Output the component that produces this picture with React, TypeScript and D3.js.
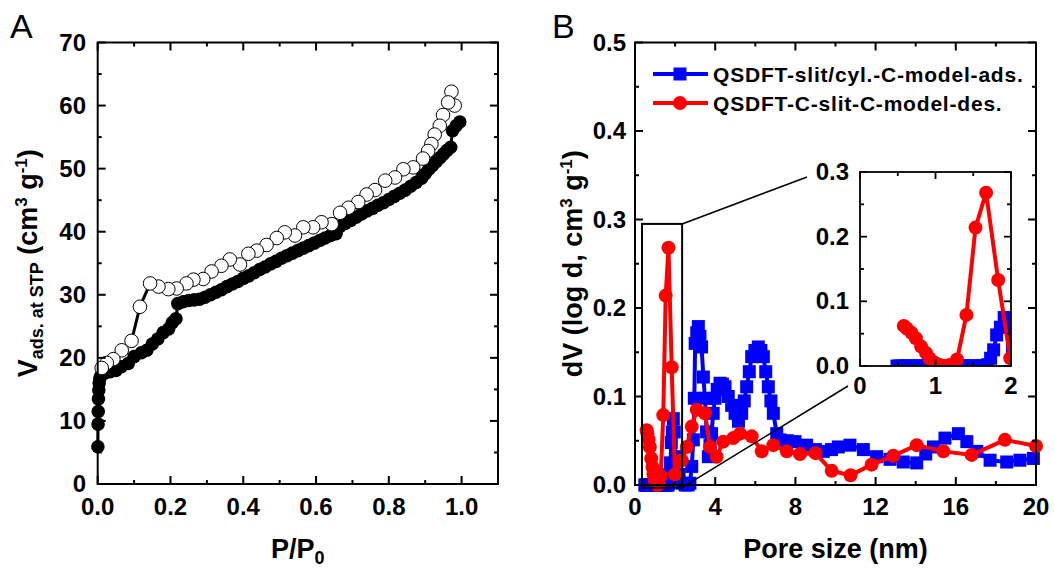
import * as d3 from "d3";

// Panel A: N2 isotherm (P/P0 vs V ads. at STP)
const adsP = [0.0005, 0.001, 0.0015, 0.002, 0.003, 0.004, 0.006, 0.01, 0.02, 0.034, 0.05, 0.065, 0.084, 0.1, 0.12, 0.135, 0.15, 0.165, 0.18, 0.195, 0.205, 0.215, 0.22, 0.235, 0.25, 0.265, 0.28, 0.295, 0.31, 0.325, 0.34, 0.355, 0.37, 0.385, 0.4, 0.415, 0.43, 0.445, 0.46, 0.475, 0.49, 0.505, 0.52, 0.535, 0.55, 0.565, 0.58, 0.595, 0.61, 0.625, 0.64, 0.655, 0.665, 0.68, 0.695, 0.71, 0.725, 0.74, 0.755, 0.77, 0.785, 0.8, 0.815, 0.83, 0.845, 0.86, 0.875, 0.89, 0.9, 0.91, 0.92, 0.93, 0.94, 0.95, 0.96, 0.97, 0.975, 0.985, 0.995];
const adsV = [5.9, 9.5, 11.5, 13.5, 14.9, 16.0, 16.8, 17.3, 17.6, 17.8, 18.0, 18.6, 19.1, 20.2, 20.8, 21.2, 22.2, 23.0, 24.0, 24.6, 25.6, 26.2, 28.6, 28.9, 29.1, 29.2, 29.3, 29.6, 30.0, 30.4, 30.8, 31.3, 31.7, 32.1, 32.6, 33.0, 33.5, 34.0, 34.4, 34.9, 35.3, 35.8, 36.2, 36.6, 37.0, 37.4, 37.8, 38.2, 38.6, 39.0, 39.4, 39.7, 40.8, 41.3, 41.8, 42.3, 42.8, 43.3, 43.7, 44.2, 44.6, 45.1, 45.6, 46.1, 46.6, 47.2, 47.8, 48.5, 49.2, 49.9, 50.5, 51.1, 51.7, 52.3, 52.9, 53.4, 56.0, 56.8, 57.4];
const desP = [0.981, 0.972, 0.963, 0.949, 0.94, 0.926, 0.917, 0.908, 0.894, 0.867, 0.84, 0.817, 0.79, 0.762, 0.739, 0.716, 0.689, 0.666, 0.643, 0.615, 0.592, 0.565, 0.542, 0.514, 0.492, 0.464, 0.437, 0.414, 0.391, 0.363, 0.34, 0.313, 0.29, 0.263, 0.244, 0.217, 0.194, 0.167, 0.144, 0.116, 0.093, 0.066, 0.043, 0.025, 0.011];
const desV = [60.0, 62.2, 60.5, 58.5, 56.8, 55.4, 53.9, 52.8, 51.6, 50.2, 49.9, 48.6, 48.1, 46.6, 45.9, 44.7, 43.8, 43.0, 41.2, 41.5, 40.7, 40.7, 39.4, 39.9, 39.0, 37.9, 37.0, 36.5, 34.8, 35.6, 34.6, 33.7, 32.5, 32.4, 31.8, 31.0, 30.9, 31.3, 31.8, 28.1, 22.7, 21.2, 19.8, 19.2, 18.4];

// Panel B: pore size distributions
const adsPoreD = [0.49, 0.53, 0.57, 0.61, 0.65, 0.69, 0.73, 0.77, 0.81, 0.85, 0.89, 0.93, 0.97, 1.01, 1.05, 1.09, 1.13, 1.17, 1.21, 1.25, 1.29, 1.33, 1.37, 1.41, 1.45, 1.49, 1.53, 1.57, 1.61, 1.65, 1.69, 1.73, 1.77, 1.81, 1.86, 1.91, 1.96, 2.02, 2.1, 2.2, 2.35, 2.5, 2.65, 2.74, 2.83, 2.91, 2.96, 3.0, 3.08, 3.16, 3.24, 3.32, 3.41, 3.49, 3.57, 3.66, 3.74, 3.82, 3.9, 3.99, 4.1, 4.24, 4.36, 4.49, 4.65, 4.82, 4.99, 5.16, 5.32, 5.45, 5.57, 5.7, 5.82, 5.98, 6.15, 6.28, 6.4, 6.52, 6.65, 6.78, 6.9, 7.07, 7.23, 7.6, 7.98, 8.56, 9.0, 9.39, 9.8, 10.14, 10.72, 11.39, 12.05, 12.72, 13.38, 14.05, 14.5, 14.88, 15.46, 16.13, 16.55, 17.05, 17.71, 18.54, 19.2, 19.87];
const adsPoreV = [0.0, 0.0, 0.0, 0.0, 0.0, 0.0, 0.0, 0.0, 0.0, 0.0, 0.0, 0.0, 0.0, 0.0, 0.0, 0.0, 0.0, 0.0, 0.0, 0.0, 0.0, 0.0, 0.0, 0.0, 0.0, 0.0, 0.0, 0.0, 0.0, 0.0, 0.002, 0.012, 0.025, 0.048, 0.06, 0.075, 0.06, 0.03, 0.032, 0.012, 0.002, 0.0, 0.0, 0.002, 0.021, 0.051, 0.098, 0.16, 0.172, 0.179, 0.168, 0.156, 0.122, 0.098, 0.06, 0.032, 0.045, 0.058, 0.081, 0.098, 0.108, 0.115, 0.114, 0.111, 0.1, 0.09, 0.081, 0.072, 0.081, 0.095, 0.111, 0.128, 0.145, 0.152, 0.156, 0.152, 0.145, 0.128, 0.111, 0.095, 0.081, 0.058, 0.051, 0.05, 0.049, 0.045, 0.04, 0.038, 0.04, 0.043, 0.045, 0.04, 0.032, 0.029, 0.026, 0.025, 0.035, 0.043, 0.053, 0.058, 0.049, 0.038, 0.028, 0.026, 0.028, 0.03];
const desPoreD = [0.58, 0.62, 0.68, 0.74, 0.81, 0.875, 0.92, 0.99, 1.056, 1.12, 1.19, 1.285, 1.41, 1.53, 1.67, 1.83, 1.99, 2.33, 2.58, 2.83, 3.08, 3.49, 3.74, 4.07, 4.4, 4.9, 5.24, 5.82, 6.32, 6.9, 7.57, 8.23, 9.0, 9.81, 10.75, 11.8, 12.88, 14.05, 15.38, 16.79, 18.45, 20.0];
const desPoreV = [0.062, 0.058, 0.0515, 0.043, 0.03, 0.02, 0.012, 0.005, 0.0016, 0.0, 0.0016, 0.01, 0.079, 0.214, 0.268, 0.133, 0.012, 0.028, 0.043, 0.066, 0.085, 0.081, 0.043, 0.032, 0.049, 0.053, 0.058, 0.055, 0.038, 0.045, 0.038, 0.035, 0.036, 0.016, 0.011, 0.023, 0.033, 0.045, 0.038, 0.034, 0.051, 0.044];

const seriesNames = ["QSDFT-slit/cyl.-C-model-ads.", "QSDFT-C-slit-C-model-des."];

const aXTicks = [0, 0.2, 0.4, 0.6, 0.8, 1.0];
const aXMinor = [0.1, 0.3, 0.5, 0.7, 0.9];
const aYTicks = [0, 10, 20, 30, 40, 50, 60, 70];
const aYMinor = [5, 15, 25, 35, 45, 55, 65];
const bXTicks = [0, 4, 8, 12, 16, 20];
const bXMinor = [2, 6, 10, 14, 18];
const bYTicks = [0, 0.1, 0.2, 0.3, 0.4, 0.5];
const bYMinor = [0.05, 0.15, 0.25, 0.35, 0.45];
const inXTicks = [0, 1, 2];
const inXMinor = [0.5, 1.5];
const inYTicks = [0, 0.1, 0.2, 0.3];
const inYMinor = [0.05, 0.15, 0.25];

const FONT = "'Liberation Sans', Arial, sans-serif";
const BLUE = "#0000ff";
const RED = "#ff0000";

type Sc = d3.ScaleLinear<number, number>;

// inward ticks on all four sides of a box
const Frame = ({ x, y, xt, xm, yt, ym, major = 8, minor = 4, sw = 2 }: any) => {
  const [x0, x1] = x.range();
  const [y0, y1] = y.range(); // y0 = bottom
  const out: any[] = [];
  const addX = (v: number, len: number, k: string) => {
    out.push(<line key={"xb" + k} x1={x(v)} x2={x(v)} y1={y0} y2={y0 - len} />);
    out.push(<line key={"xt" + k} x1={x(v)} x2={x(v)} y1={y1} y2={y1 + len} />);
  };
  const addY = (v: number, len: number, k: string) => {
    out.push(<line key={"yl" + k} x1={x0} x2={x0 + len} y1={y(v)} y2={y(v)} />);
    out.push(<line key={"yr" + k} x1={x1} x2={x1 - len} y1={y(v)} y2={y(v)} />);
  };
  xt.forEach((v: number, i: number) => addX(v, major, "M" + i));
  xm.forEach((v: number, i: number) => addX(v, minor, "m" + i));
  yt.forEach((v: number, i: number) => addY(v, major, "M" + i));
  ym.forEach((v: number, i: number) => addY(v, minor, "m" + i));
  return (
    <g stroke="#000" strokeWidth={sw} fill="none">
      <rect x={x0} y={y1} width={x1 - x0} height={y0 - y1} />
      {out}
    </g>
  );
};

const App = () => {
  // panel A scales
  const ax = d3.scaleLinear().domain([0, 1.1]).range([97.7, 498]);
  const ay = d3.scaleLinear().domain([0, 70]).range([484, 42.5]);
  // panel B scales
  const bx = d3.scaleLinear().domain([0, 20]).range([635, 1036]);
  const by = d3.scaleLinear().domain([0, 0.5]).range([485, 42.5]);
  // inset scales
  const ix = d3.scaleLinear().domain([0, 2]).range([860, 1011]);
  const iy = d3.scaleLinear().domain([0, 0.3]).range([366, 172]);

  const adsA = adsP.map((p, i) => [p, adsV[i]] as [number, number]);
  const desA = desP.map((p, i) => [p, desV[i]] as [number, number]);
  const blue = adsPoreD.map((d, i) => [d, adsPoreV[i]] as [number, number]);
  const red = desPoreD.map((d, i) => [d, desPoreV[i]] as [number, number]);

  const lineOf = (sx: Sc, sy: Sc) =>
    d3.line<[number, number]>().x((d) => sx(d[0])).y((d) => sy(d[1]));

  const psd = (sx: Sc, sy: Sc, k: string, sq: number, r: number, lw: number) => (
    <g key={k}>
      <path d={lineOf(sx, sy)(blue) || ""} stroke={BLUE} strokeWidth={lw} fill="none" />
      {blue.map((d, i) => (
        <rect key={i} x={sx(d[0]) - sq / 2} y={sy(d[1]) - sq / 2} width={sq} height={sq} fill={BLUE} />
      ))}
      <path d={lineOf(sx, sy)(red) || ""} stroke={RED} strokeWidth={lw} fill="none" />
      {red.map((d, i) => (
        <circle key={i} cx={sx(d[0])} cy={sy(d[1])} r={r} fill={RED} />
      ))}
    </g>
  );

  const tickStyle = { fontFamily: FONT, fontWeight: "bold", fontSize: 24 } as const;

  // zoom box in panel B and its connector lines to the inset
  const zx0 = bx(0.35), zx1 = bx(2.35), zy0 = by(-0.003), zy1 = by(0.295);
  const [iL] = ix.range();
  const [iB, iT] = iy.range();

  return (
    <svg width={1055} height={569} style={{ position: "absolute", left: 0, top: 0, background: "#fff" }}>
      <defs>
        <clipPath id="insetClip">
          <rect x={ix(0)} y={iy(0.3)} width={ix(2) - ix(0)} height={iy(0) - iy(0.3)} />
        </clipPath>
      </defs>

      {/* ---------- Panel A ---------- */}
      <text x={10} y={38} fontFamily={FONT} fontSize={34}>A</text>
      <path d={lineOf(ax, ay)(adsA) || ""} stroke="#000" strokeWidth={3} fill="none" />
      {adsA.map((d, i) => (
        <circle key={i} cx={ax(d[0])} cy={ay(d[1])} r={6.8} fill="#000" />
      ))}
      <path d={lineOf(ax, ay)(desA) || ""} stroke="#000" strokeWidth={3} fill="none" />
      {desA.map((d, i) => (
        <circle key={i} cx={ax(d[0])} cy={ay(d[1])} r={6.8} fill="#fff" stroke="#000" strokeWidth={1} />
      ))}
      <Frame x={ax} y={ay} xt={aXTicks} xm={aXMinor} yt={aYTicks} ym={aYMinor} />
      {aXTicks.map((v) => (
        <text key={v} x={ax(v)} y={515} textAnchor="middle" {...tickStyle}>{v.toFixed(1)}</text>
      ))}
      {aYTicks.map((v) => (
        <text key={v} x={86} y={ay(v) + 8} textAnchor="end" {...tickStyle}>{v}</text>
      ))}
      <text x={(ax(0) + ax(1.1)) / 2} y={558} textAnchor="middle" fontFamily={FONT} fontWeight="bold" fontSize={27}>
        P/P<tspan fontSize={18} dy={6}>0</tspan>
      </text>
      <text
        transform={`translate(37,${(ay(0) + ay(70)) / 2}) rotate(-90)`}
        textAnchor="middle"
        fontFamily={FONT}
        fontWeight="bold"
        fontSize={27}
      >
        V<tspan fontSize={18} dy={6}>ads. at STP</tspan>
        <tspan dy={-6}> (cm</tspan>
        <tspan fontSize={17} dy={-10}>3</tspan>
        <tspan dy={10}> g</tspan>
        <tspan fontSize={17} dy={-10}>-1</tspan>
        <tspan dy={10}>)</tspan>
      </text>

      {/* ---------- Panel B ---------- */}
      <text x={552} y={38} fontFamily={FONT} fontSize={34}>B</text>
      {psd(bx, by, "main", 13, 7, 4)}
      <Frame x={bx} y={by} xt={bXTicks} xm={bXMinor} yt={bYTicks} ym={bYMinor} />
      {bXTicks.map((v) => (
        <text key={v} x={bx(v)} y={515} textAnchor="middle" {...tickStyle}>{v}</text>
      ))}
      {bYTicks.map((v) => (
        <text key={v} x={626} y={by(v) + 8} textAnchor="end" {...tickStyle}>{v.toFixed(1)}</text>
      ))}
      <text x={(bx(0) + bx(20)) / 2} y={558} textAnchor="middle" fontFamily={FONT} fontWeight="bold" fontSize={27}>
        Pore size (nm)
      </text>
      <text
        transform={`translate(582,${(by(0) + by(0.5)) / 2}) rotate(-90)`}
        textAnchor="middle"
        fontFamily={FONT}
        fontWeight="bold"
        fontSize={27}
      >
        dV (log d, cm<tspan fontSize={17} dy={-10}>3</tspan>
        <tspan dy={10}> g</tspan>
        <tspan fontSize={17} dy={-10}>-1</tspan>
        <tspan dy={10}>)</tspan>
      </text>

      {/* legend */}
      <g>
        <line x1={653} x2={708} y1={74} y2={74} stroke={BLUE} strokeWidth={4} />
        <rect x={673.5} y={67.5} width={13} height={13} fill={BLUE} />
        <text x={713} y={82} fontFamily={FONT} fontWeight="bold" fontSize={21} letterSpacing={0.8}>{seriesNames[0]}</text>
        <line x1={653} x2={708} y1={103} y2={103} stroke={RED} strokeWidth={4} />
        <circle cx={680} cy={103} r={7} fill={RED} />
        <text x={713} y={111} fontFamily={FONT} fontWeight="bold" fontSize={21} letterSpacing={0.8}>{seriesNames[1]}</text>
      </g>

      {/* zoom box and connectors */}
      <g stroke="#000" strokeWidth={1.5} fill="none">
        <rect x={zx0} y={zy1} width={zx1 - zx0} height={zy0 - zy1} strokeWidth={2} />
        <line x1={zx1} y1={zy1} x2={iL - 53} y2={iT + 5} />
        <line x1={zx1} y1={zy0} x2={iL - 12} y2={iB + 20} />
      </g>

      {/* inset */}
      <rect x={ix(0)} y={iy(0.3)} width={ix(2) - ix(0)} height={iy(0) - iy(0.3)} fill="#fff" />
      <g clipPath="url(#insetClip)">{psd(ix, iy, "inset", 13, 7, 4)}</g>
      <Frame x={ix} y={iy} xt={inXTicks} xm={inXMinor} yt={inYTicks} ym={inYMinor} major={7} minor={4} sw={1.8} />
      {inXTicks.map((v) => (
        <text key={v} x={ix(v)} y={iB + 28} textAnchor="middle" {...tickStyle}>{v}</text>
      ))}
      {inYTicks.map((v) => (
        <text key={v} x={849} y={iy(v) + 8} textAnchor="end" {...tickStyle}>{v.toFixed(1)}</text>
      ))}
    </svg>
  );
};

export default App;
